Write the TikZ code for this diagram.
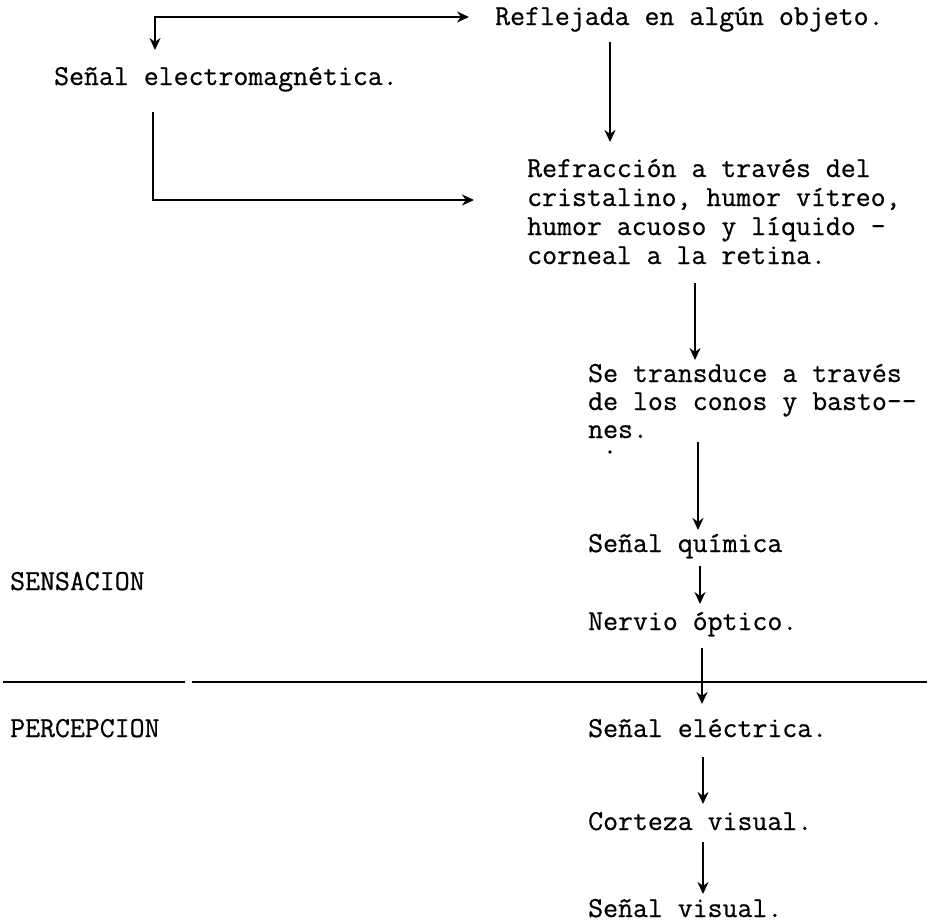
\documentclass[tikz,border=0pt]{standalone}
\usepackage{fontspec}
\setmonofont{Latin Modern Mono}[FakeBold=0.6]
\usetikzlibrary{arrows.meta}
\begin{document}
\begin{tikzpicture}[x=1pt,y=-1pt,
  txt/.style={anchor=base west,inner sep=0pt,font=\fontsize{29}{29}\selectfont\ttfamily},
  tip/.style={Stealth[length=12pt,width=11pt]},
  conn/.style={line width=2.2pt,-{Stealth[length=12pt,width=11pt]}},
  sep/.style={line width=2.4pt}]
\useasboundingbox (0,0) rectangle (930,922);
% texts
\node[txt] (refl) at (495,25) {Reflejada en algún objeto.};
\node[txt] (sem) at (54,85) {Señal electromagnética.};
\node[txt] (refr1) at (527,177) {Refracción a través del};
\node[txt] (refr2) at (527,206) {cristalino, humor vítreo,};
\node[txt] (refr3) at (527,235) {humor acuoso y líquido -};
\node[txt] (refr4) at (527,264) {corneal a la retina.};
\node[txt] (tr1) at (588,382) {Se transduce a través};
\node[txt] (tr2) at (588,410) {de los conos y basto--};
\node[txt] (tr3) at (588,438) {nes.};
\node[txt] (quim) at (588,552) {Señal química};
\node[txt] (sens) at (10,590) {SENSACION};
\node[txt] (nerv) at (588,630) {Nervio óptico.};
\node[txt] (perc) at (10,737) {PERCEPCION};
\node[txt] (elec) at (588,737) {Señal eléctrica.};
\node[txt] (cort) at (588,830) {Corteza visual.};
\node[txt] (vis) at (588,917) {Señal visual.};
% coordinates
\coordinate (b1tip) at (155,50);
\coordinate (b1c) at (155,17);
\coordinate (b1end) at (469,17);
\coordinate (b2s) at (153,112);
\coordinate (b2c) at (153,200);
\coordinate (b2end) at (474,200);
\coordinate (a3s) at (610,42);
\coordinate (a3e) at (610,142);
\coordinate (a4s) at (695,283);
\coordinate (a4e) at (695,360);
\coordinate (a5s) at (698,442);
\coordinate (a5e) at (698,530);
\coordinate (a6s) at (700,566);
\coordinate (a6e) at (700,604);
\coordinate (a7s) at (702,648);
\coordinate (a7e) at (702,704);
\coordinate (a8s) at (703,757);
\coordinate (a8e) at (703,804);
\coordinate (a9s) at (703,842);
\coordinate (a9e) at (703,894);
\coordinate (s1) at (3,682);
\coordinate (s2) at (185,682);
\coordinate (s3) at (192,682);
\coordinate (s4) at (927,682);
% connectors
\draw[line width=2.2pt,{Stealth[length=12pt,width=11pt]}-{Stealth[length=12pt,width=11pt]}] (b1tip) -- (b1c) -- (b1end);
\draw[conn] (b2s) -- (b2c) -- (b2end);
\draw[conn] (a3s) -- (a3e);
\draw[conn] (a4s) -- (a4e);
\draw[conn] (a5s) -- (a5e);
\draw[conn] (a6s) -- (a6e);
\draw[conn] (a7s) -- (a7e);
\draw[conn] (a8s) -- (a8e);
\draw[conn] (a9s) -- (a9e);
\draw[sep] (s1) -- (s2);
\draw[sep] (s3) -- (s4);
\fill (610,452) circle (1.8pt);
\end{tikzpicture}
\end{document}
